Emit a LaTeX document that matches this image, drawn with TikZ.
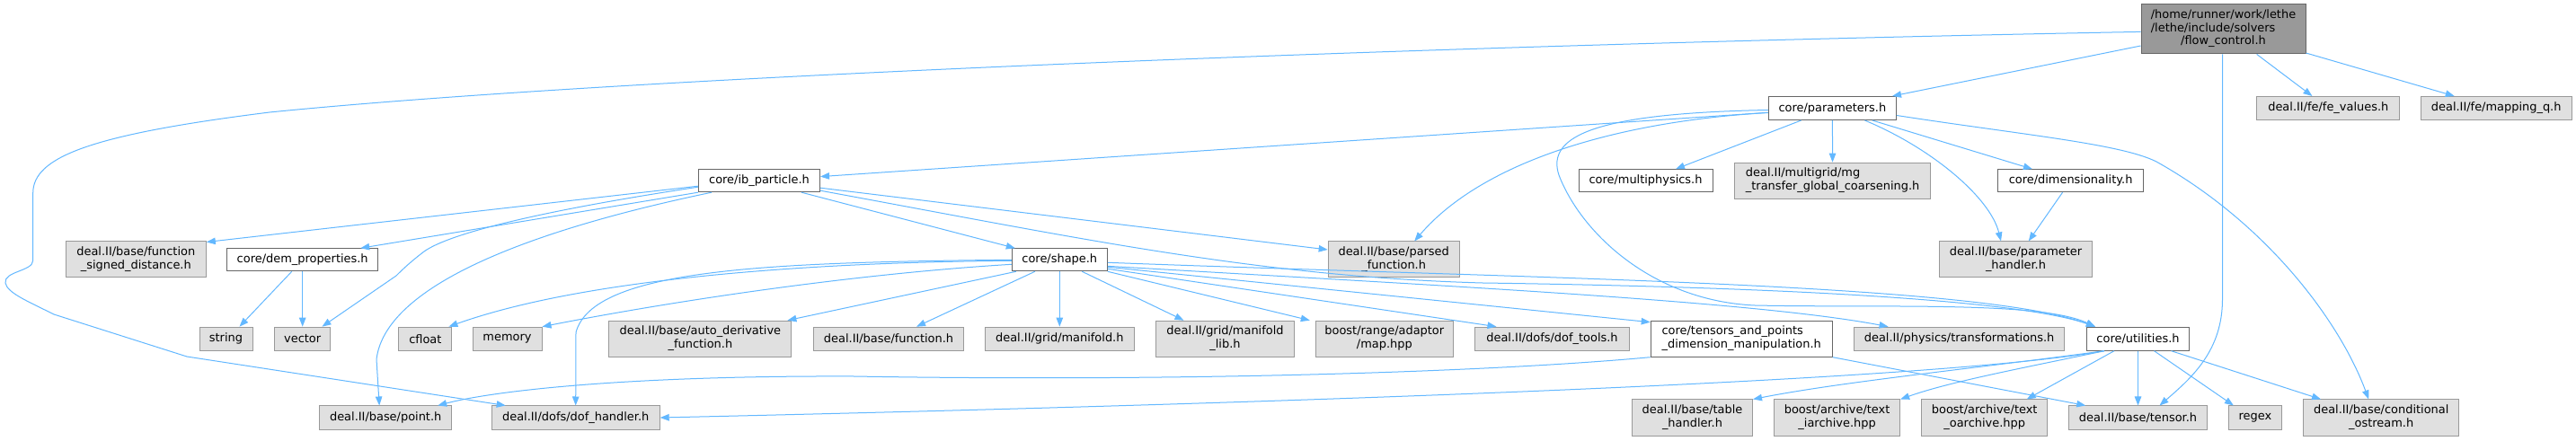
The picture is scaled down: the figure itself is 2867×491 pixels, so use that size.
\documentclass[tikz,border=0pt]{standalone}
\usepackage{fontspec}
\setmainfont{DejaVu Sans}
\usetikzlibrary{arrows.meta,calc}
\definecolor{edgec}{HTML}{63B8FF}
\definecolor{wborder}{HTML}{666666}
\definecolor{gborder}{HTML}{999999}
\definecolor{gfill}{HTML}{E0E0E0}
\definecolor{topfill}{HTML}{999999}
\newcommand\dfont{\fontsize{9.7}{10.75}\selectfont}
\newcommand\twol[2]{\begin{tabular}{@{}l@{}}#1\\\multicolumn{1}{@{}c@{}}{#2}\end{tabular}}
\tikzset{
  nd/.style 2 args={draw, line width=0.75pt, inner sep=0pt, align=center,
    minimum width=#1*0.75pt, minimum height=#2*0.75pt, font=\dfont},
  wb/.style 2 args={nd={#1}{#2}, draw=wborder, fill=white},
  gb/.style 2 args={nd={#1}{#2}, draw=gborder, fill=gfill},
  tb/.style 2 args={nd={#1}{#2}, draw=wborder, fill=topfill},
  e/.style={draw=edgec, line width=0.75pt, -{Triangle[length=7.5pt,width=5.6pt]}}
}
\begin{document}
\begin{tikzpicture}[x=0.75pt,y=-0.75pt]
\fill[white] (0,0) rectangle (2867,491);
\useasboundingbox (0,0) rectangle (2867,491);
% nodes
\node[tb={183}{55}] (F) at (2474.5,32.4) {\begin{tabular}{@{}l@{}}/home/runner/work/lethe\\/lethe/include/solvers\\\multicolumn{1}{@{}c@{}}{/flow\_control.h}\end{tabular}};
\node[wb={142}{26}] (P) at (2039.4,120.5) {core/parameters.h};
\node[gb={159}{26}] (fe) at (2591.3,120.5) {deal.II/fe/fe\_values.h};
\node[gb={168}{26}] (mq) at (2778.2,120.5) {deal.II/fe/mapping\_q.h};
\node[wb={135}{25}] (I) at (845,201.2) {core/ib\_particle.h};
\node[wb={149}{25}] (mph) at (1831.5,201.2) {core/multiphysics.h};
\node[gb={218}{40}] (mg) at (2039.6,201.2) {\twol{deal.II/multigrid/mg}{\_transfer\_global\_coarsening.h}};
\node[wb={162}{25}] (dim) at (2304.6,201.2) {core/dimensionality.h};
\node[gb={156}{40}] (fsd) at (151.3,289) {\twol{deal.II/base/function}{\_signed\_distance.h}};
\node[wb={168}{25}] (dem) at (336.7,289.3) {core/dem\_properties.h};
\node[wb={106}{25}] (S) at (1179.3,289.3) {core/shape.h};
\node[gb={146}{40}] (pf) at (1551.2,289) {\twol{deal.II/base/parsed}{\_function.h}};
\node[gb={170}{40}] (ph) at (2243.5,289) {\twol{deal.II/base/parameter}{\_handler.h}};
\node[gb={59}{26}] (str) at (251.5,377.2) {string};
\node[gb={62.5}{26}] (vec) at (336.7,377.2) {vector};
\node[gb={59}{26}] (cfl) at (473.4,377.2) {cfloat};
\node[gb={77}{26}] (mem) at (564.5,377.2) {memory};
\node[gb={203}{40}] (ad) at (779.4,377.2) {\twol{deal.II/base/auto\_derivative}{\_function.h}};
\node[gb={167}{26}] (fn) at (989,377.2) {deal.II/base/function.h};
\node[gb={166}{26}] (mf) at (1179.3,377.2) {deal.II/grid/manifold.h};
\node[gb={154}{40}] (mfl) at (1363.5,377.2) {\twol{deal.II/grid/manifold}{\_lib.h}};
\node[gb={153}{40}] (map) at (1540.8,377.2) {\twol{boost/range/adaptor}{/map.hpp}};
\node[gb={171.5}{26}] (dt) at (1727.5,377.2) {deal.II/dofs/dof\_tools.h};
\node[wb={202}{40}] (T) at (1938.2,377.2) {\twol{core/tensors\_and\_points}{\_dimension\_manipulation.h}};
\node[gb={234.4}{26}] (tr) at (2180.6,377.2) {deal.II/physics/transformations.h};
\node[wb={114}{26}] (U) at (2379.5,377.2) {core/utilities.h};
\node[gb={147}{26}] (pt) at (429.2,465) {deal.II/base/point.h};
\node[gb={187}{26}] (dh) at (640.7,465) {deal.II/dofs/dof\_handler.h};
\node[gb={134}{40}] (th) at (1883.5,465) {\twol{deal.II/base/table}{\_handler.h}};
\node[gb={140}{40}] (ia) at (2044.6,465) {\twol{boost/archive/text}{\_iarchive.hpp}};
\node[gb={140}{40}] (oa) at (2208.7,465) {\twol{boost/archive/text}{\_oarchive.hpp}};
\node[gb={153.6}{26}] (tn) at (2379.5,465) {deal.II/base/tensor.h};
\node[gb={59}{26}] (rx) at (2509.9,465) {regex};
\node[gb={173.3}{40}] (co) at (2650.2,465) {\twol{deal.II/base/conditional}{\_ostream.h}};
% edges from flow_control
\draw[e] (F) -- (P);
\draw[e] (F) -- (fe);
\draw[e] (F) -- (mq);
\draw[e] ($(F.south)+(-1,0)$) -- (2473.5,333) .. controls (2473.5,390) and (2440,420) .. ($(tn.north)+(24,0)$);
\draw[e] ($(F.west)+(0,3)$) .. controls (1600,50) and (700,85) .. (300,125) .. controls (100,150) and (36.7,175) .. (36.7,215) -- (36.7,290) .. controls (36.7,302) and (4,302) .. (6,315) .. controls (8,326) and (30,335) .. (60,350) -- (208,397) -- ($(dh.north west)+(16,0)$);
% edges from parameters
\draw[e] (P) -- (I);
\draw[e] (P) -- (mph);
\draw[e] (P) -- (mg);
\draw[e] (P) -- (dim);
\draw[e] ($(P.south)+(36,0)$) .. controls (2150,165) and (2215,220) .. ($(ph.north)+(-16.5,0)$);
\draw[e] ($(P.east)+(0,8)$) .. controls (2250,150) and (2360,160) .. (2400,180) .. controls (2525,250) and (2605,360) .. ($(co.north)+(-14,0)$);
\draw[e] ($(P.west)+(0,5)$) .. controls (1800,135) and (1650,180) .. ($(pf.north)+(23,0)$);
\draw[e] ($(P.west)+(0,2)$) .. controls (1780,126) and (1720,150) .. (1735,195) .. controls (1760,260) and (1840,335) .. (1953,340) .. controls (2100,343) and (2270,335) .. ($(U.north west)+(10,0)$);
\draw[e] (dim) -- (ph);
% edges from ib_particle
\draw[e] ($(I.west)+(0,6)$) -- ($(fsd.north east)+(0,1)$);
\draw[e] (I.south west) -- ($(dem.north east)+(-20,0)$);
\draw[e] ($(I.west)+(0,7)$) .. controls (600,235) and (500,260) .. (472,280) .. controls (455,293) and (446,302) .. (441,307) -- ($(vec.north east)+(-10,0)$);
\draw[e] ($(I.south west)+(15,0)$) .. controls (620,250) and (430,310) .. (419,400) -- ($(pt.north)+(-7,0)$);
\draw[e] ($(I.south east)+(-21,0)$) -- ($(S.north west)+(4,0)$);
\draw[e] ($(I.east)+(0,8)$) -- ($(pf.west)+(0,-11)$);
\draw[e] ($(I.east)+(0,11)$) .. controls (1200,265) and (1400,308) .. (1650,315) .. controls (2000,320) and (2250,335) .. ($(U.north west)+(10,0)$);
% edges from dem_properties
\draw[e] ($(dem.south)+(-12,0)$) -- ($(str.north)+(15,0)$);
\draw[e] (dem) -- (vec);
% edges from shape
\draw[e] ($(S.west)+(0,1)$) .. controls (900,292) and (650,310) .. ($(cfl.north east)+(-4,0)$);
\draw[e] (S.west) .. controls (850,292) and (660,300) .. (641,370) -- (dh.north);
\draw[e] ($(S.west)+(0,5)$) .. controls (950,305) and (750,335) .. (mem.north east);
\draw[e] ($(S.south west)+(5,0)$) -- ($(ad.north east)+(-5,0)$);
\draw[e] ($(S.south west)+(26,0)$) -- ($(fn.north)+(31,0)$);
\draw[e] (S) -- (mf);
\draw[e] ($(S.south)+(25,0)$) -- ($(mfl.north)+(-46,0)$);
\draw[e] (S.south east) -- ($(map.north)+(-83,0)$);
\draw[e] ($(S.east)+(0,10)$) -- ($(dt.north)+(-62,0)$);
\draw[e] ($(S.east)+(0,8)$) -- ($(T.north west)+(0,2)$);
\draw[e] ($(S.east)+(0,7)$) .. controls (1600,318) and (1950,335) .. ($(tr.north)+(-79,0)$);
\draw[e] ($(S.east)+(0,3)$) .. controls (1700,310) and (2200,315) .. ($(U.north west)+(10,0)$);
% edges from tensors_and_points
\draw[e] (T.south west) .. controls (1650,415) and (1300,425) .. (950,419) .. controls (700,418) and (550,435) .. ($(pt.north east)+(-16,0)$);
\draw[e] (T.south east) -- ($(tn.north west)+(19,0)$);
% edges from utilities
\draw[e] ($(U.south west)+(20,0)$) .. controls (2150,425) and (1400,450) .. (dh.east);
\draw[e] ($(U.south west)+(20,0)$) .. controls (2200,410) and (2050,425) .. (th.north east);
\draw[e] ($(U.south west)+(20,0)$) .. controls (2250,410) and (2170,425) .. (ia.north east);
\draw[e] ($(U.south west)+(31,0)$) -- ($(oa.north)+(47,0)$);
\draw[e] (U) -- (tn);
\draw[e] ($(U.south)+(18,0)$) -- ($(rx.north west)+(6,0)$);
\draw[e] ($(U.south)+(37,0)$) -- ($(co.north west)+(20,0)$);
\end{tikzpicture}
\end{document}
